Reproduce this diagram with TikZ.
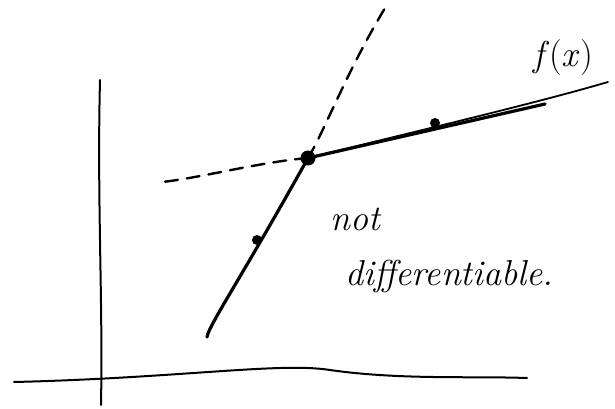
\documentclass[tikz,border=0pt]{standalone}
\usepackage{tikz}
\usetikzlibrary{positioning}

\begin{document}
\begin{tikzpicture}[
    x=1pt, y=-1pt,
    axis/.style={line width=2pt, line cap=round},
    graph/.style={line width=3.2pt, line cap=round},
    guess/.style={line width=2.4pt, line cap=round, dash pattern=on 13pt off 9pt},
    dot/.style={circle, fill, inner sep=0pt, minimum size=10pt},
    note/.style={font=\fontsize{36}{36}\selectfont\itshape, inner sep=0pt, anchor=base west}
]
\useasboundingbox (0,0) rectangle (615,409);

% ==================== Axes ====================
\coordinate (ytop) at (100,80);
\coordinate (ybot) at (101,405);
\coordinate (xl)   at (14,382);
\coordinate (xr)   at (527,378);

\draw[axis] (ytop) .. controls (97,200) and (103,300) .. (ybot);
\draw[axis] (xl) .. controls (180,378) and (280,362) .. (330,370)
                 .. controls (400,380) and (470,376) .. (xr);

% ==================== Graph with a kink ====================
\coordinate (kink)  at (308,158);
\coordinate (low)   at (207,337);
\coordinate (high)  at (545,104);
\coordinate (far)   at (608,82);

\draw[graph] (low) .. controls (209,325) and (240,280) .. (kink);
\draw[graph] (kink) -- (high);
\draw[line width=1.8pt, line cap=round] (kink) .. controls (430,128) and (540,102) .. (far);

% tangent guesses (dashed)
\coordinate (dleft) at (162,182);
\coordinate (dtop)  at (385,8);
\draw[guess] (kink) .. controls (260,162) and (200,178) .. (dleft);
\draw[guess] (kink) .. controls (325,130) and (345,75) .. (dtop);

% ==================== Dots ====================
\node[dot, minimum size=15pt] (pk) at (kink) {};
\node[dot] (pa) at (257,240) {};
\node[dot] (pb) at (435,123) {};

% ==================== Labels ====================
\node[font=\fontsize{36}{36}\selectfont, inner sep=0pt] (fx) at (563,58) {\textit{f}(\textit{x})};
\node[note] (nt) at (330,230) {not};
\node[note] (df) at (345,285) {differentiable.};

\end{tikzpicture}
\end{document}
